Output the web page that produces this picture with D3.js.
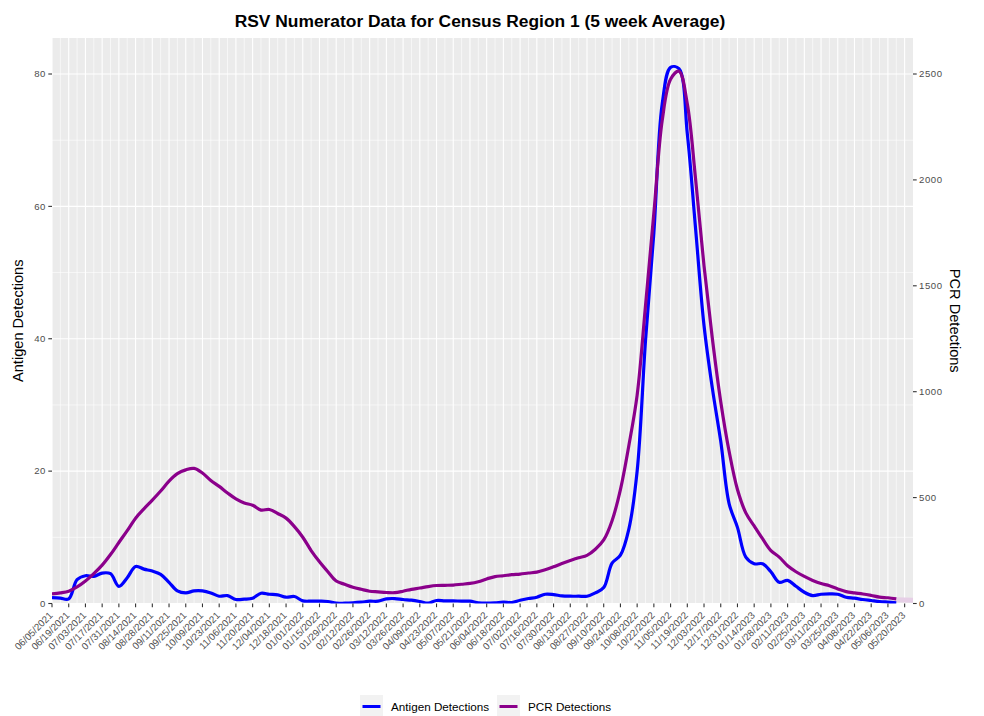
<!DOCTYPE html>
<html>
<head>
<meta charset="utf-8">
<script src="https://cdn.jsdelivr.net/npm/d3@7"></script>
<style>
  body { margin: 0; background: #fff; }
  svg { display: block; font-family: "Liberation Sans", Arial, sans-serif; }
</style>
</head>
<body>
<svg id="chart" width="984" height="716"></svg>
<script>
// ---------------- DATA ----------------
const startDate = "2021-06-05";          // first weekly observation
const endDomainDate = "2023-05-27";      // right end of the x-axis
const antigen = [
  0.9, 0.8, 0.7, 3.6, 4.2, 4.1, 4.6, 4.5, 2.6, 3.9,
  5.6, 5.2, 4.9, 4.4, 3.2, 1.9, 1.6, 1.9, 1.9, 1.6,
  1.1, 1.2, 0.6, 0.65, 0.8, 1.55, 1.4, 1.3, 0.95, 1.05,
  0.4, 0.35, 0.35, 0.3, 0.05, 0.05, 0.1, 0.2, 0.35, 0.35,
  0.7, 0.75, 0.6, 0.5, 0.3, 0.05, 0.45, 0.4, 0.4, 0.35,
  0.35, 0.1, 0.05, 0.1, 0.2, 0.15, 0.5, 0.75, 0.95, 1.4,
  1.35, 1.15, 1.1, 1.1, 1.1, 1.6, 2.4, 6.1, 7.3, 11.2,
  20, 39.7, 56, 75.5, 81.0, 80.8, 71, 56.5, 42, 32.5,
  24.5, 15.1, 11.5, 7.0, 6.0, 6.0, 4.8, 3.2, 3.5, 2.6,
  1.7, 1.2, 1.4, 1.45, 1.4, 0.95, 0.8, 0.6, 0.45, 0.3,
  0.2, 0.1
];
const pcr = [
  45, 50, 58, 78, 106, 141, 181, 231, 288, 344,
  403, 447, 488, 531, 578, 613, 631, 638, 616, 581,
  553, 522, 494, 475, 464, 441, 444, 425, 403, 363,
  313, 250, 197, 150, 106, 91, 77, 67, 58, 55,
  52, 51, 58, 67, 73, 80, 85, 86, 87, 91,
  95, 103, 116, 127, 131, 136, 139, 144, 148, 159,
  173, 189, 203, 216, 227, 256, 300, 391, 538, 744,
  984, 1406, 1844, 2281, 2475, 2513, 2359, 2000, 1594, 1250,
  953, 719, 538, 428, 366, 306, 250, 219, 178, 150,
  128, 109, 94, 84, 69, 56, 50, 45, 38, 30,
  27, 22
];
const xTickLabels = [
  "06/05/2021","06/19/2021","07/03/2021","07/17/2021","07/31/2021","08/14/2021",
  "08/28/2021","09/11/2021","09/25/2021","10/09/2021","10/23/2021","11/06/2021",
  "11/20/2021","12/04/2021","12/18/2021","01/01/2022","01/15/2022","01/29/2022",
  "02/12/2022","02/26/2022","03/12/2022","03/26/2022","04/09/2022","04/23/2022",
  "05/07/2022","05/21/2022","06/04/2022","06/18/2022","07/02/2022","07/16/2022",
  "07/30/2022","08/13/2022","08/27/2022","09/10/2022","09/24/2022","10/08/2022",
  "10/22/2022","11/05/2022","11/19/2022","12/03/2022","12/17/2022","12/31/2022",
  "01/14/2023","01/28/2023","02/11/2023","02/25/2023","03/11/2023","03/25/2023",
  "04/08/2023","04/22/2023","05/06/2023","05/20/2023"
];
const leftTicks = [0, 20, 40, 60, 80];
const leftMinor = [10, 30, 50, 70];
const rightTicks = [0, 500, 1000, 1500, 2000, 2500];
const seriesNames = ["Antigen Detections", "PCR Detections"];
const seriesColors = ["#0000FF", "#8B008B"];
const titleText = "RSV Numerator Data for Census Region 1 (5 week Average)";

// ---------------- LAYOUT ----------------
const P = { left: 52, right: 913, top: 38, bottom: 603.5 };
const svg = d3.select("#chart");
const parse = d3.utcParse("%Y-%m-%d");
const parseLbl = d3.utcParse("%m/%d/%Y");
const t0 = parse(startDate);
const dates = antigen.map((_, i) => d3.utcDay.offset(t0, 7 * i));

const x = d3.scaleUtc().domain([t0, parse(endDomainDate)]).range([P.left, P.right]);
const yL = d3.scaleLinear().domain([0, 85.44]).range([P.bottom, P.top]);
const yR = d3.scaleLinear().domain([0, 85.44 * 31.25]).range([P.bottom, P.top]);

svg.append("rect").attr("width", 984).attr("height", 716).attr("fill", "#fff");

// panel
svg.append("rect").attr("x", P.left).attr("y", P.top)
  .attr("width", P.right - P.left).attr("height", P.bottom - P.top)
  .attr("fill", "#EBEBEB");

const grid = svg.append("g");
const tickDates = xTickLabels.map(parseLbl);
const minorDates = tickDates.map(d => d3.utcDay.offset(d, 7)).filter(d => x(d) < P.right);
grid.selectAll(".vmin").data(minorDates).join("line")
  .attr("x1", d => x(d)).attr("x2", d => x(d))
  .attr("y1", P.top).attr("y2", P.bottom)
  .attr("stroke", "#fff").attr("stroke-width", 0.6);
grid.selectAll(".hmin").data(leftMinor).join("line")
  .attr("x1", P.left).attr("x2", P.right)
  .attr("y1", d => yL(d)).attr("y2", d => yL(d))
  .attr("stroke", "#fff").attr("stroke-width", 0.6);
grid.selectAll(".vmaj").data(tickDates).join("line")
  .attr("x1", d => x(d)).attr("x2", d => x(d))
  .attr("y1", P.top).attr("y2", P.bottom)
  .attr("stroke", "#fff").attr("stroke-width", 1.1);
grid.selectAll(".hmaj").data(leftTicks).join("line")
  .attr("x1", P.left).attr("x2", P.right)
  .attr("y1", d => yL(d)).attr("y2", d => yL(d))
  .attr("stroke", "#fff").attr("stroke-width", 1.1);

// lines
svg.append("clipPath").attr("id", "clip").append("rect")
  .attr("x", P.left).attr("y", P.top).attr("width", P.right - P.left).attr("height", P.bottom - P.top);

const lineL = d3.line().x((d, i) => x(dates[i])).y(d => yL(d)).curve(d3.curveCatmullRom.alpha(0.5));
const lineR = d3.line().x((d, i) => x(dates[i])).y(d => yR(d)).curve(d3.curveCatmullRom.alpha(0.5));

const lg = svg.append("g").attr("clip-path", "url(#clip)");
// faint tail of the PCR smoother band at the right edge
lg.append("line")
  .attr("x1", x(dates[dates.length - 1])).attr("x2", P.right)
  .attr("y1", yR(pcr[pcr.length - 1]) + 1).attr("y2", yR(pcr[pcr.length - 1]) + 1.5)
  .attr("stroke", "#E6CFE6").attr("stroke-width", 5);
lg.append("path").datum(antigen).attr("d", lineL)
  .attr("fill", "none").attr("stroke", seriesColors[0]).attr("stroke-width", 3.2)
  .attr("stroke-linejoin", "round").attr("stroke-linecap", "butt");
lg.append("path").datum(pcr).attr("d", lineR)
  .attr("fill", "none").attr("stroke", seriesColors[1]).attr("stroke-width", 3.2)
  .attr("stroke-linejoin", "round").attr("stroke-linecap", "butt");

// axes
const axisCol = "#333333", textCol = "#4D4D4D";
const ax = svg.append("g");
ax.selectAll(".xt").data(tickDates).join("line")
  .attr("x1", d => x(d)).attr("x2", d => x(d))
  .attr("y1", P.bottom).attr("y2", P.bottom + 3.7)
  .attr("stroke", axisCol).attr("stroke-width", 1.1);
ax.selectAll(".xl").data(tickDates).join("text")
  .attr("transform", (d) => `translate(${x(d) - 3.5},${P.bottom + 7.5}) rotate(-45)`)
  .attr("text-anchor", "end").attr("dy", "0.71em")
  .attr("font-size", 9.8).attr("fill", textCol)
  .text((d, i) => xTickLabels[i]);
ax.selectAll(".ylt").data(leftTicks).join("line")
  .attr("x1", P.left - 3.7).attr("x2", P.left)
  .attr("y1", d => yL(d)).attr("y2", d => yL(d))
  .attr("stroke", axisCol).attr("stroke-width", 1.1);
ax.selectAll(".yll").data(leftTicks).join("text")
  .attr("x", P.left - 6).attr("y", d => yL(d)).attr("dy", "0.35em")
  .attr("text-anchor", "end").attr("font-size", 9.6).attr("fill", textCol)
  .attr("letter-spacing", 0.6)
  .text(d => d);
ax.selectAll(".yrt").data(rightTicks).join("line")
  .attr("x1", P.right).attr("x2", P.right + 3.7)
  .attr("y1", d => yR(d)).attr("y2", d => yR(d))
  .attr("stroke", axisCol).attr("stroke-width", 1.1);
ax.selectAll(".yrl").data(rightTicks).join("text")
  .attr("x", P.right + 6).attr("y", d => yR(d)).attr("dy", "0.35em")
  .attr("text-anchor", "start").attr("font-size", 9.6).attr("fill", textCol)
  .attr("letter-spacing", 0.6)
  .text(d => d);

// titles
svg.append("text").attr("x", 480).attr("y", 27)
  .attr("text-anchor", "middle").attr("font-size", 17.4).attr("font-weight", "bold")
  .attr("fill", "#000").text(titleText);
svg.append("text").attr("transform", `translate(23,${(P.top + P.bottom) / 2}) rotate(-90)`)
  .attr("text-anchor", "middle").attr("font-size", 14.6).attr("fill", "#000")
  .text(seriesNames[0]);
svg.append("text").attr("transform", `translate(950,${(P.top + P.bottom) / 2}) rotate(90)`)
  .attr("text-anchor", "middle").attr("font-size", 14.6).attr("fill", "#000")
  .text(seriesNames[1]);

// legend
const legX = [360, 497];
const leg = svg.append("g");
seriesNames.forEach((name, i) => {
  leg.append("rect").attr("x", legX[i]).attr("y", 695).attr("width", 23).attr("height", 22)
    .attr("fill", "#F2F2F2");
  leg.append("line").attr("x1", legX[i] + 2.5).attr("x2", legX[i] + 20.5)
    .attr("y1", 706.5).attr("y2", 706.5)
    .attr("stroke", seriesColors[i]).attr("stroke-width", 3);
  leg.append("text").attr("x", legX[i] + 31).attr("y", 706.5).attr("dy", "0.35em")
    .attr("font-size", 11.7).attr("fill", "#000").text(name);
});
</script>
</body>
</html>
